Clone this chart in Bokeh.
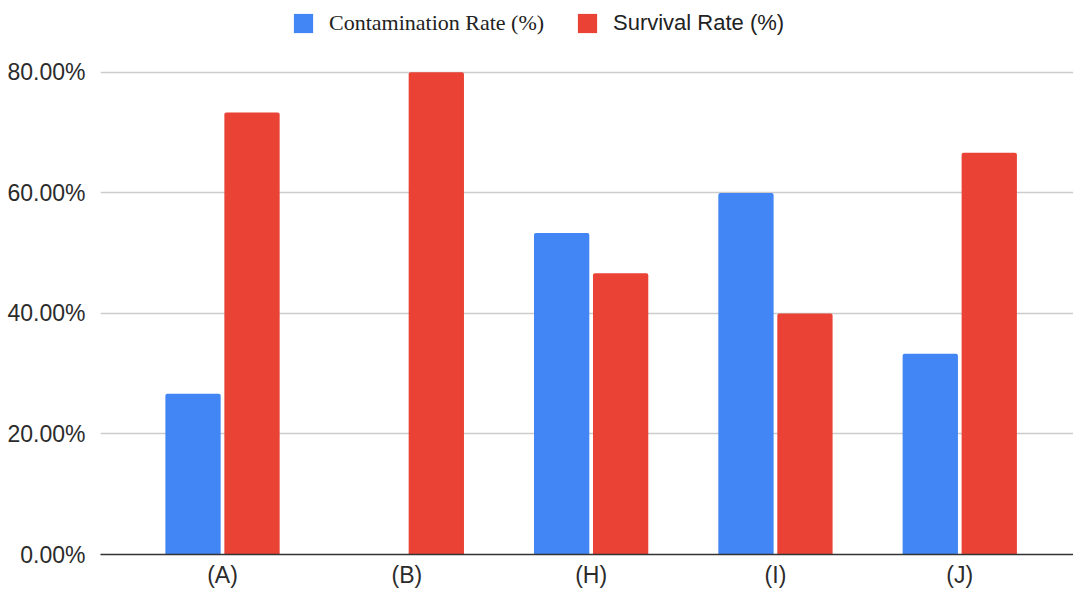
from bokeh.plotting import figure
from bokeh.models import (ColumnDataSource, Range1d, FixedTicker, PrintfTickFormatter,
                          Legend, LegendItem)
from bokeh.transform import dodge
from bokeh.embed import file_html
from bokeh.resources import INLINE

# Rates per sample group, in percent
categories = ["(A)", "(B)", "(H)", "(I)", "(J)"]
contamination_rate = [26.67, 0.0, 53.33, 60.0, 33.33]
survival_rate = [73.33, 80.0, 46.67, 40.0, 66.67]
y_ticks = [0, 20, 40, 60, 80]

BLUE = "#4285F4"
RED = "#EA4335"
FONT = "Liberation Sans"

source = ColumnDataSource(dict(
    x=list(range(len(categories))),
    contamination=contamination_rate,
    survival=survival_rate,
))

# The plot frame runs to the top edge so the legend row sits inside it;
# the y range leaves headroom above the 80% line for that row.
p = figure(
    width=1073, height=590,
    x_range=Range1d(-0.662, len(categories) - 1 + 0.617),
    y_range=Range1d(0, 80 * 555 / 483),
    output_backend="svg", toolbar_location=None,
    min_border_left=100, min_border_right=0,
    min_border_top=0, min_border_bottom=35,
)
p.outline_line_color = None
p.background_fill_color = "white"
p.border_fill_color = "white"

bar_w = 0.30
r_cont = p.vbar(x=dodge("x", -0.16), top="contamination", width=bar_w, source=source,
                fill_color=BLUE, line_color=None, border_radius=(2, 2, 0, 0))
r_surv = p.vbar(x=dodge("x", 0.16), top="survival", width=bar_w, source=source,
                fill_color=RED, line_color=None, border_radius=(2, 2, 0, 0))

# x axis: category names under each group, dark baseline
p.xaxis.ticker = FixedTicker(ticks=list(range(len(categories))))
p.xaxis.major_label_overrides = {i: c for i, c in enumerate(categories)}
p.xaxis.axis_line_color = "#333333"
p.xaxis.axis_line_width = 1.5
p.xaxis.major_tick_line_color = None
p.xaxis.minor_tick_line_color = None
p.xaxis.major_label_standoff = 1
p.xaxis.major_label_text_font = FONT
p.xaxis.major_label_text_font_size = "23px"
p.xaxis.major_label_text_color = "#2b2b2b"
p.xgrid.grid_line_color = None

# y axis: percentage labels, light horizontal grid
p.yaxis.ticker = FixedTicker(ticks=y_ticks)
p.yaxis.formatter = PrintfTickFormatter(format="%.2f%%")
p.yaxis.axis_line_color = None
p.yaxis.major_tick_line_color = None
p.yaxis.minor_tick_line_color = None
p.yaxis.major_label_standoff = 9
p.yaxis.major_label_text_font = FONT
p.yaxis.major_label_text_font_size = "23px"
p.yaxis.major_label_text_color = "#2b2b2b"
p.ygrid.ticker = FixedTicker(ticks=y_ticks)
p.ygrid.grid_line_color = "#cccccc"
p.ygrid.grid_line_width = 1.5


def make_legend(label, renderer, font, x):
    lg = Legend(items=[LegendItem(label=label, renderers=[renderer])],
                location=(x, 518), orientation="horizontal")
    lg.padding = 0
    lg.margin = 0
    lg.spacing = 0
    lg.border_line_color = None
    lg.background_fill_alpha = 0
    lg.glyph_width = 24
    lg.glyph_height = 24
    lg.label_height = 24
    lg.label_standoff = 14
    lg.label_text_font = font
    lg.label_text_font_size = "22px"
    lg.label_text_color = "#222222"
    lg.label_text_baseline = "middle"
    return lg


p.add_layout(make_legend("Contamination Rate (%)", r_cont, "Liberation Serif", 191))
p.add_layout(make_legend("Survival Rate (%)", r_surv, FONT, 475))

open("out.html", "w").write(file_html(p, INLINE))
